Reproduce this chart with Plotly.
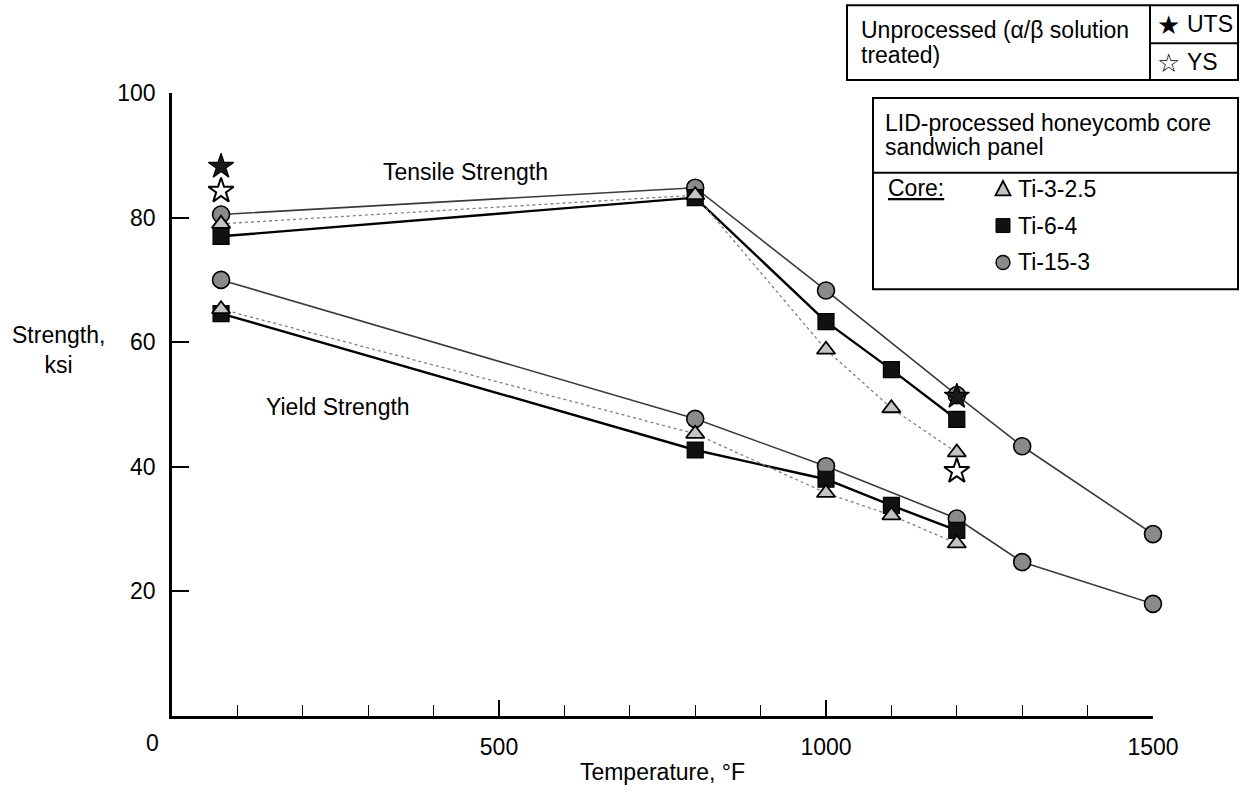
import plotly.graph_objects as go

# ---------------- data ----------------
temps_a = [75, 800, 1000, 1200, 1300, 1500]          # Ti-15-3
temps_b = [75, 800, 1000, 1100, 1200]                # Ti-6-4, Ti-3-2.5

uts_ti1503 = [80.5, 84.8, 68.3, 51.5, 43.3, 29.2]
uts_ti64 = [77.0, 83.2, 63.3, 55.6, 47.6]
uts_ti3225 = [79.0, 83.6, 58.8, 49.4, 42.3]

ys_ti1503 = [70.0, 47.7, 40.1, 31.7, 24.7, 18.0]
ys_ti64 = [64.6, 42.7, 38.0, 33.8, 29.8]
ys_ti3225 = [65.3, 45.3, 35.8, 32.2, 27.7]

unproc_temps = [75, 1200]
unproc_uts = [88.2, 51.3]
unproc_ys = [84.3, 39.3]

x_ticks = [500, 1000, 1500]
y_ticks = [20, 40, 60, 80, 100]

FONT = "Liberation Sans, Arial, Helvetica, sans-serif"
FS = 23
W, H = 1244, 793
ML, MR, MT, MB = 172, 91, 93, 75
PW, PH = W - ML - MR, H - MT - MB


def fx(p):  # pixel x -> paper
    return (p - ML) / PW


def fy(p):  # pixel y -> paper
    return (H - MB - p) / PH


fig = go.Figure()

styles = {
    "Ti-15-3": dict(line=dict(color="#3a3a3a", width=1.6),
                    marker=dict(symbol="circle", size=17, color="#8a8a8a",
                                line=dict(color="black", width=1.6))),
    "Ti-6-4": dict(line=dict(color="black", width=2.4),
                   marker=dict(symbol="square", size=16, color="#111111",
                               line=dict(color="black", width=1.2))),
    "Ti-3-2.5": dict(line=dict(color="#808080", width=1.3, dash="dot"),
                     marker=dict(symbol="triangle-up", size=16, color="#c4c4c4",
                                 line=dict(color="black", width=1.8))),
}

series = [
    ("Ti-15-3", temps_a, uts_ti1503, ys_ti1503),
    ("Ti-6-4", temps_b, uts_ti64, ys_ti64),
    ("Ti-3-2.5", temps_b, uts_ti3225, ys_ti3225),
]

# lines first
for name, xs, uts, ys in series:
    for yv in (uts, ys):
        fig.add_trace(go.Scatter(x=xs, y=yv, mode="lines", line=styles[name]["line"],
                                 showlegend=False, hoverinfo="skip", cliponaxis=False))
# markers
for name, xs, uts, ys in series:
    for yv in (uts, ys):
        fig.add_trace(go.Scatter(x=xs, y=yv, mode="markers", marker=styles[name]["marker"],
                                 showlegend=False, name=name, cliponaxis=False))

# unprocessed stars
fig.add_trace(go.Scatter(x=unproc_temps, y=unproc_uts, mode="markers",
                         marker=dict(symbol="star", size=19, color="#1a1a1a",
                                     line=dict(color="black", width=1.2)),
                         showlegend=False, name="UTS", cliponaxis=False))
fig.add_trace(go.Scatter(x=unproc_temps, y=unproc_ys, mode="markers",
                         marker=dict(symbol="star", size=19, color="white",
                                     line=dict(color="black", width=2)),
                         showlegend=False, name="YS", cliponaxis=False))

shapes = []
annotations = []

# Box 1: unprocessed legend
shapes.append(dict(type="rect", xref="paper", yref="paper",
                   x0=fx(847), x1=fx(1238), y0=fy(80), y1=fy(5),
                   line=dict(color="black", width=2), fillcolor="white", layer="above"))
shapes.append(dict(type="line", xref="paper", yref="paper",
                   x0=fx(1150), x1=fx(1150), y0=fy(80), y1=fy(5),
                   line=dict(color="black", width=2)))
shapes.append(dict(type="line", xref="paper", yref="paper",
                   x0=fx(1150), x1=fx(1238), y0=fy(43), y1=fy(43),
                   line=dict(color="black", width=2)))
annotations += [
    dict(text="Unprocessed (α/β solution", x=fx(859), y=fy(30)),
    dict(text="treated)", x=fx(859), y=fy(55)),
    dict(text="★", x=fx(1155), y=fy(25), font=dict(family="DejaVu Sans", size=26, color="black")),
    dict(text="UTS", x=fx(1185), y=fy(24)),
    dict(text="☆", x=fx(1155), y=fy(63), font=dict(family="DejaVu Sans", size=26, color="black")),
    dict(text="YS", x=fx(1185), y=fy(62)),
]

# Box 2: processed legend
shapes.append(dict(type="rect", xref="paper", yref="paper",
                   x0=fx(873), x1=fx(1238), y0=fy(290), y1=fy(98),
                   line=dict(color="black", width=2), fillcolor="white", layer="above"))
shapes.append(dict(type="line", xref="paper", yref="paper",
                   x0=fx(873), x1=fx(1238), y0=fy(173), y1=fy(173),
                   line=dict(color="black", width=2)))
annotations += [
    dict(text="LID-processed honeycomb core", x=fx(883), y=fy(123)),
    dict(text="sandwich panel", x=fx(883), y=fy(147)),
    dict(text="<u>Core:</u>", x=fx(886), y=fy(188)),
    dict(text="Ti-3-2.5", x=fx(1016), y=fy(189)),
    dict(text="Ti-6-4", x=fx(1016), y=fy(226)),
    dict(text="Ti-15-3", x=fx(1016), y=fy(263)),
]


def tri(cx, cy, s):
    h = s * 0.9
    pts = [(cx, cy - h / 2 - 1), (cx - s / 2, cy + h / 2), (cx + s / 2, cy + h / 2)]
    return "M " + " L ".join(f"{fx(a)},{fy(b)}" for a, b in pts) + " Z"


shapes.append(dict(type="path", xref="paper", yref="paper", path=tri(1003, 189, 15),
                   fillcolor="#c4c4c4", line=dict(color="black", width=1.8), layer="above"))
shapes.append(dict(type="rect", xref="paper", yref="paper",
                   x0=fx(996), x1=fx(1010), y0=fy(233), y1=fy(219),
                   fillcolor="#111111", line=dict(color="black", width=1), layer="above"))
shapes.append(dict(type="circle", xref="paper", yref="paper",
                   x0=fx(996), x1=fx(1010), y0=fy(270), y1=fy(256),
                   fillcolor="#8a8a8a", line=dict(color="black", width=1.4), layer="above"))

for a in annotations:
    a.setdefault("font", dict(family=FONT, size=FS, color="black"))
    a.update(xref="paper", yref="paper", xanchor="left", yanchor="middle", showarrow=False)

# in-plot labels
annotations += [
    dict(text="Tensile Strength", x=(465 - ML) / PW * 1500, y=(H - MB - 172) / PH * 100,
         xref="x", yref="y", showarrow=False, font=dict(family=FONT, size=FS, color="black")),
    dict(text="Yield Strength", x=(338 - ML) / PW * 1500, y=(H - MB - 408) / PH * 100,
         xref="x", yref="y", showarrow=False, font=dict(family=FONT, size=FS, color="black")),
    dict(text="Strength,<br>ksi", x=fx(58), y=fy(351), xref="paper", yref="paper",
         showarrow=False, xanchor="center", yanchor="middle", align="center",
         font=dict(family=FONT, size=FS, color="black")),
    dict(text="0", x=fx(152), y=fy(745), xref="paper", yref="paper", showarrow=False,
         xanchor="center", yanchor="middle", font=dict(family=FONT, size=FS, color="black")),
]

fig.update_layout(
    width=W, height=H,
    margin=dict(l=ML, r=MR, t=MT, b=MB, pad=0),
    paper_bgcolor="white", plot_bgcolor="white",
    font=dict(family=FONT, size=FS, color="black"),
    shapes=shapes, annotations=annotations,
    showlegend=False,
    xaxis=dict(range=[0, 1500], tickvals=x_ticks, ticktext=[str(v) for v in x_ticks],
               ticks="inside", ticklen=16, tickwidth=1.5, tickcolor="black",
               showline=True, linecolor="black", linewidth=2.5, showgrid=False, zeroline=False,
               minor=dict(dtick=100, tick0=0, ticks="inside", ticklen=11, tickwidth=1.3,
                          tickcolor="black", showgrid=False),
               ticklabelstandoff=9,
               title=dict(text="Temperature, °F", standoff=5, font=dict(family=FONT, size=FS))),
    yaxis=dict(range=[0, 100], tickvals=y_ticks, ticktext=[str(v) for v in y_ticks],
               ticks="inside", ticklen=17, tickwidth=1.8, tickcolor="black",
               showline=True, linecolor="black", linewidth=2.5, showgrid=False, zeroline=False,
               ticklabelstandoff=9),
)

fig.write_html("out.html")
